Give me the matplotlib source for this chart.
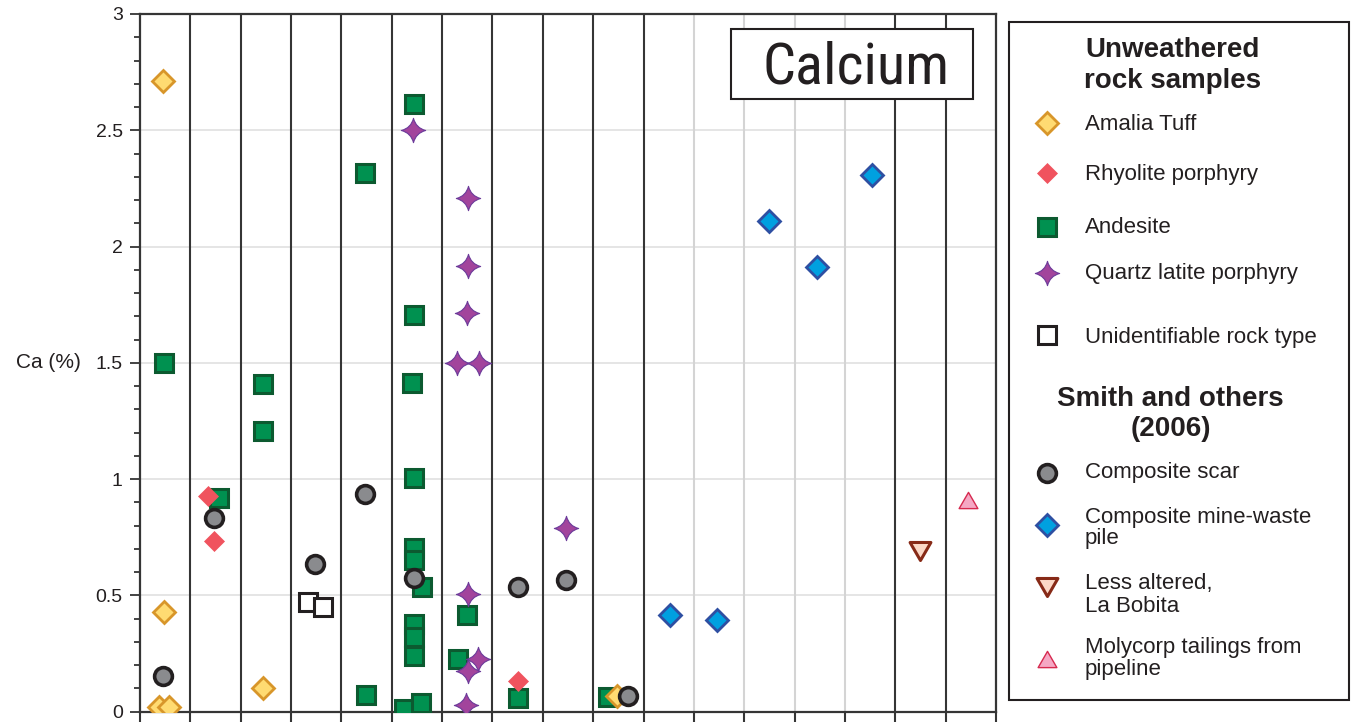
import matplotlib
matplotlib.use("Agg")
import matplotlib.pyplot as plt
from matplotlib.path import Path
from matplotlib.patches import Rectangle
from matplotlib import font_manager

# ---------------- data (Ca %, x = column position) ----------------
amalia_x = [0.46, 0.48, 0.38, 0.57, 2.45, 9.48]
amalia_y = [2.71, 0.43, 0.02, 0.02, 0.10, 0.065]

rhyolite_x = [1.36, 1.47, 7.50]
rhyolite_y = [0.925, 0.735, 0.13]

andesite_x = [0.48, 1.575, 2.45, 2.45, 4.47, 4.49,
              5.44, 5.45, 5.40, 5.45, 5.45, 5.45, 5.61, 5.45, 5.45, 5.45, 5.24, 5.59,
              6.49, 6.32, 7.50, 9.30]
andesite_y = [1.50, 0.92, 1.41, 1.205, 2.315, 0.07,
              2.615, 1.705, 1.415, 1.005, 0.705, 0.65, 0.535, 0.375, 0.32, 0.24, 0.012, 0.038,
              0.415, 0.227, 0.06, 0.064]

quartz_x = [5.43, 6.52, 6.52, 6.50, 6.30, 6.73, 6.52, 6.72, 6.52, 6.47, 8.47]
quartz_y = [2.50, 2.21, 1.915, 1.715, 1.50, 1.50, 0.505, 0.225, 0.175, 0.028, 0.79]

unident_x = [3.34, 3.64]
unident_y = [0.473, 0.449]

scar_x = [0.46, 1.46, 3.48, 4.46, 5.44, 7.50, 8.47, 9.69]
scar_y = [0.153, 0.834, 0.635, 0.935, 0.576, 0.537, 0.566, 0.067]

minewaste_x = [10.53, 11.45, 12.50, 13.45, 14.53]
minewaste_y = [0.415, 0.394, 2.11, 1.913, 2.309]

bobita_x = [15.49]
bobita_y = [0.691]

molycorp_x = [16.45]
molycorp_y = [0.908]

# ---------------- marker shapes ----------------
c = 0.2
star = Path([(0, 1), (c, c), (1, 0), (c, -c), (0, -1), (-c, -c), (-1, 0), (-c, c), (0, 1), (0, 1)],
            [Path.MOVETO, Path.CURVE3, Path.CURVE3, Path.CURVE3, Path.CURVE3,
             Path.CURVE3, Path.CURVE3, Path.CURVE3, Path.CURVE3, Path.CLOSEPOLY])
tri_up = Path([(-0.5, -0.433), (0.5, -0.433), (0, 0.433), (-0.5, -0.433)],
              [Path.MOVETO, Path.LINETO, Path.LINETO, Path.CLOSEPOLY])
tri_down = Path([(-0.5, 0.433), (0.5, 0.433), (0, -0.433), (-0.5, 0.433)],
                [Path.MOVETO, Path.LINETO, Path.LINETO, Path.CLOSEPOLY])

styles = {
    "amalia": dict(marker="D", ms=11.5, mfc="#FFDB72", mec="#D8962A", mew=2.0, zorder=4),
    "rhyolite": dict(marker="D", ms=10.3, mfc="#F0535E", mec="#F0535E", mew=0.5, zorder=4.5),
    "andesite": dict(marker="s", ms=12.8, mfc="#009150", mec="#0C5A30", mew=2.2, zorder=3),
    "quartz": dict(marker=star, ms=17.5, mfc="#A2449C", mec="#6B3A9A", mew=0.8, zorder=5),
    "unident": dict(marker="s", ms=12.8, mfc="white", mec="#231F20", mew=2.2, zorder=5),
    "scar": dict(marker="o", ms=12.8, mfc="#8A8B8E", mec="#231F20", mew=2.6, zorder=6),
    "minewaste": dict(marker="D", ms=11.6, mfc="#00A0E0", mec="#2E4FA2", mew=2.0, zorder=5),
    "bobita": dict(marker=tri_down, ms=15, mfc="#FBD8C6", mec="#872A17", mew=2.2, zorder=5),
    "molycorp": dict(marker=tri_up, ms=13.5, mfc="#F5A8C4", mec="#D6294F", mew=1.0, zorder=5),
}

names = {f.name for f in font_manager.fontManager.ttflist}
plt.rcParams['font.family'] = ['Liberation Sans', 'DejaVu Sans']

# condensed face for the title, if one is installed
narrow = 'Liberation Sans'
for cand in ['Liberation Sans Narrow', 'Roboto Condensed', 'Open Sans Condensed',
             'DejaVu Sans Condensed', 'Noto Sans Condensed']:
    if cand in names:
        narrow = cand
        break

W, H = 1351, 723
fig = plt.figure(figsize=(W / 100, H / 100), dpi=100)
ax = fig.add_axes([140 / W, 1 - 711.5 / H, 856 / W, 697.5 / H])

ax.set_xlim(0, 17)
ax.set_ylim(0, 3)

dark = "#353535"
light = "#D4D4D4"

# horizontal grid
for yv in [0.5, 1.0, 1.5, 2.0, 2.5]:
    ax.axhline(yv, color="#E0E0E0", lw=1.2, zorder=1)
# vertical column separators
for xv in range(1, 17):
    col = light if 11 <= xv <= 14 else dark
    ax.axvline(xv, color=col, lw=1.5, zorder=1.5)

for s in ax.spines.values():
    s.set_color(dark)
    s.set_linewidth(1.6)

ax.set_yticks([0, 0.5, 1, 1.5, 2, 2.5, 3])
ax.set_yticklabels(["0", "0.5", "1", "1.5", "2", "2.5", "3"])
ax.set_yticks([i / 10 for i in range(31)], minor=True)
ax.tick_params(axis="y", which="major", direction="out", length=7.5, width=1.3,
               color=dark, labelsize=14, pad=5, labelcolor="#231F20")
ax.tick_params(axis="y", which="minor", direction="out", length=4, width=1.3, color=dark)
ax.set_xticks(range(18))
ax.set_xticklabels([])
ax.tick_params(axis="x", which="major", direction="out", length=7, width=1.5, color=dark)
for i, t in enumerate(ax.xaxis.get_major_ticks()):
    if 11 <= i <= 14:
        t.tick1line.set_color(light)

ax.set_ylabel("Ca (%)", rotation=0, fontsize=15, ha="right", va="center", color="#231F20")
ax.yaxis.set_label_coords(-0.069, 0.5)

# data
ax.plot(andesite_x, andesite_y, ls="none", **styles["andesite"])
ax.plot(amalia_x, amalia_y, ls="none", **styles["amalia"])
ax.plot(rhyolite_x, rhyolite_y, ls="none", **styles["rhyolite"])
ax.plot(quartz_x, quartz_y, ls="none", **styles["quartz"])
ax.plot(unident_x, unident_y, ls="none", **styles["unident"])
ax.plot(scar_x, scar_y, ls="none", **styles["scar"])
ax.plot(minewaste_x, minewaste_y, ls="none", **styles["minewaste"])
ax.plot(bobita_x, bobita_y, ls="none", **styles["bobita"])
ax.plot(molycorp_x, molycorp_y, ls="none", **styles["molycorp"])

# title box
ax.add_patch(Rectangle((0.6904, 0.8781), 0.2827, 0.1004, transform=ax.transAxes,
                       facecolor="white", edgecolor="#231F20", lw=1.5, zorder=7))
title_size = 36 if narrow == 'Liberation Sans' else 42
ax.text(0.8364, 0.9007, "Calcium", transform=ax.transAxes, ha="center", va="baseline",
        fontsize=title_size, family=narrow, color="#231F20", zorder=8)

# ---------------- legend panel (figure pixel coords) ----------------
lax = fig.add_axes([0, 0, 1, 1])
lax.set_xlim(0, W)
lax.set_ylim(H, 0)
lax.axis("off")
lax.add_patch(Rectangle((1009, 22), 340, 678, facecolor="white", edgecolor="#231F20", lw=1.5))

txt = dict(fontsize=16, va="baseline", color="#231F20")
head = dict(fontsize=20, fontweight="bold", ha="center", va="baseline", color="#231F20")

lax.text(1173, 57, "Unweathered", **head)
lax.text(1173, 88, "rock samples", **head)
lax.text(1170.5, 406, "Smith and others", **head)
lax.text(1170.5, 436, "(2006)", **head)

entries = [
    ("amalia", 123, ["Amalia Tuff"], [130]),
    ("rhyolite", 172.5, ["Rhyolite porphyry"], [180]),
    ("andesite", 226.5, ["Andesite"], [233]),
    ("quartz", 273, ["Quartz latite porphyry"], [279]),
    ("unident", 335, ["Unidentifiable rock type"], [342.5]),
    ("scar", 473, ["Composite scar"], [478]),
    ("minewaste", 525, ["Composite mine-waste", "pile"], [523, 544]),
    ("bobita", 587, ["Less altered,", "La Bobita"], [589, 611.5]),
    ("molycorp", 659, ["Molycorp tailings from", "pipeline"], [652.5, 675]),
]
for key, my, lines, bases in entries:
    lax.plot([1047], [my], ls="none", **styles[key])
    for line, b in zip(lines, bases):
        lax.text(1085, b, line, **txt)

fig.savefig("out.png", dpi=100)
